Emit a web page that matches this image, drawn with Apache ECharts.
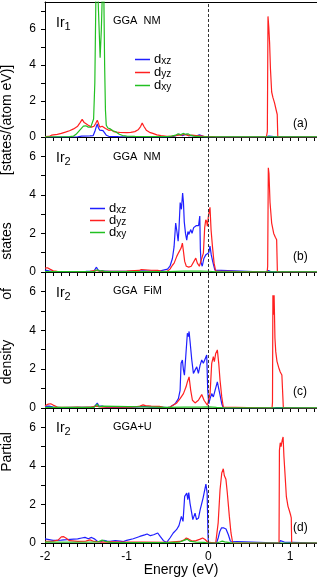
<!DOCTYPE html>
<html><head><meta charset="utf-8">
<script src="https://cdn.jsdelivr.net/npm/echarts@6/dist/echarts.min.js"></script>
<style>html,body{margin:0;padding:0;background:#fff}#c{width:317px;height:583px}</style>
</head><body><div id="c"></div>
<script>
// ---------- data (x: energy in eV, y: PDOS) ----------
const aXZ = [[-2,0],[-1.6,0.01],[-1.55,0.05],[-1.45,0.06],[-1.41,0.08],[-1.39,0.3],[-1.37,0.6],[-1.36,0.72],[-1.345,0.5],[-1.33,0.38],[-1.31,0.45],[-1.29,0.35],[-1.27,0.25],[-1.25,0.1],[-1.22,0.04],[-1.1,0.02],[-0.5,0.01],[-0.42,0.04],[-0.38,0.1],[-0.35,0.15],[-0.32,0.08],[-0.3,0.12],[-0.27,0.15],[-0.24,0.07],[-0.2,0.08],[-0.15,0.05],[-0.11,0.12],[-0.09,0.05],[-0.05,0.01],[0.7,0],[0.74,0.05],[0.8,0.02],[1.33,0]];
const aYZ = [[-2,0.02],[-1.95,0.03],[-1.92,0.1],[-1.9,0.12],[-1.85,0.15],[-1.8,0.2],[-1.75,0.27],[-1.7,0.35],[-1.65,0.45],[-1.6,0.6],[-1.57,0.8],[-1.545,0.98],[-1.52,0.8],[-1.5,0.7],[-1.47,0.65],[-1.43,0.55],[-1.4,0.6],[-1.38,0.75],[-1.36,0.93],[-1.345,0.75],[-1.33,0.55],[-1.3,0.6],[-1.26,0.47],[-1.22,0.37],[-1.19,0.4],[-1.16,0.3],[-1.14,0.33],[-1.12,0.27],[-1.08,0.25],[-1.0,0.24],[-0.95,0.26],[-0.9,0.3],[-0.86,0.4],[-0.83,0.58],[-0.81,0.78],[-0.79,0.6],[-0.76,0.38],[-0.72,0.26],[-0.68,0.2],[-0.63,0.12],[-0.58,0.08],[-0.51,0.04],[-0.46,0.04],[-0.4,0.08],[-0.36,0.12],[-0.33,0.1],[-0.3,0.15],[-0.27,0.12],[-0.24,0.08],[-0.2,0.1],[-0.15,0.08],[-0.1,0.06],[-0.05,0.03],[0,0.02],[0.05,0.02],[0.1,0],[0.71,0],[0.722,0.3],[0.73,6.7],[0.74,6.1],[0.75,5.2],[0.76,3.8],[0.775,2.5],[0.79,2.2],[0.81,1.9],[0.83,1.5],[0.843,1.25],[0.85,0],[1.33,0]];
const aXY = [[-2,0.01],[-1.7,0.02],[-1.65,0.05],[-1.62,0.15],[-1.59,0.3],[-1.56,0.45],[-1.53,0.6],[-1.5,0.62],[-1.47,0.55],[-1.44,0.55],[-1.42,0.65],[-1.405,1.0],[-1.39,3],[-1.375,8.5],[-1.36,9],[-1.345,7],[-1.325,4.4],[-1.31,6],[-1.295,8.5],[-1.28,8],[-1.27,4],[-1.26,1.5],[-1.25,0.65],[-1.23,0.5],[-1.2,0.45],[-1.17,0.35],[-1.14,0.3],[-1.12,0.3],[-1.09,0.15],[-1.05,0.08],[-1.0,0.05],[-0.9,0.03],[-0.7,0.02],[-0.5,0.02],[-0.45,0.05],[-0.4,0.1],[-0.37,0.18],[-0.34,0.12],[-0.31,0.2],[-0.28,0.15],[-0.25,0.18],[-0.22,0.1],[-0.18,0.05],[-0.1,0.02],[0,0.01],[1.33,0.01]];

const bXZ = [[-2,0.1],[-1.95,0.06],[-1.9,0.03],[-1.7,0.02],[-1.5,0.03],[-1.4,0.05],[-1.37,0.25],[-1.35,0.1],[-1.32,0.05],[-1.3,0.15],[-1.28,0.05],[-1.2,0.03],[-1,0.04],[-0.9,0.05],[-0.8,0.06],[-0.7,0.05],[-0.6,0.05],[-0.55,0.1],[-0.5,0.15],[-0.47,0.3],[-0.44,0.7],[-0.42,1.3],[-0.40,2.54],[-0.385,2.1],[-0.37,1.6],[-0.36,2.2],[-0.345,3.6],[-0.33,3.25],[-0.315,4.1],[-0.305,3.6],[-0.295,2.6],[-0.28,2.0],[-0.265,1.65],[-0.25,2.1],[-0.24,1.95],[-0.215,2.2],[-0.2,2.0],[-0.18,2.3],[-0.165,2.2],[-0.15,2.4],[-0.135,2.3],[-0.12,2.4],[-0.105,2.9],[-0.098,1.2],[-0.09,0.5],[-0.075,0.3],[-0.055,0.7],[-0.03,0.9],[-0.01,1.0],[0.005,1.0],[0.02,1.35],[0.035,0.9],[0.05,0.6],[0.065,0.35],[0.08,0.1],[0.09,0.02],[0.7,0],[0.735,0.08],[0.76,0.02],[1.33,0]];
const bYZ = [[-2,0.2],[-1.97,0.22],[-1.94,0.15],[-1.9,0.06],[-1.85,0.03],[-1.6,0.02],[-1.45,0.03],[-1.38,0.08],[-1.36,0.12],[-1.33,0.05],[-1.2,0.04],[-1.0,0.05],[-0.9,0.07],[-0.85,0.08],[-0.82,0.13],[-0.8,0.1],[-0.7,0.09],[-0.62,0.08],[-0.58,0.05],[-0.53,0.02],[-0.5,0.05],[-0.47,0.15],[-0.44,0.35],[-0.419,0.46],[-0.387,0.81],[-0.367,0.98],[-0.35,0.9],[-0.334,1.24],[-0.318,1.5],[-0.305,1.07],[-0.29,0.55],[-0.27,0.3],[-0.24,0.25],[-0.21,0.3],[-0.19,0.38],[-0.154,0.72],[-0.135,0.46],[-0.11,0.3],[-0.09,0.2],[-0.061,0.98],[-0.045,2.3],[-0.032,2.71],[-0.02,2.6],[-0.012,2.37],[0.0,2.88],[0.02,3.35],[0.033,2.19],[0.05,1.33],[0.07,0.46],[0.09,0.05],[0.1,0],[0.72,0],[0.726,0.3],[0.734,5.4],[0.742,5.1],[0.755,3.6],[0.775,2.54],[0.8,2.0],[0.82,1.8],[0.836,1.67],[0.845,0],[1.33,0]];
const bXY = [[-2,0.02],[-1.4,0.02],[-1.36,0.12],[-1.33,0.03],[-1.3,0.08],[-1.27,0.02],[-0.5,0.02],[-0.3,0.05],[-0.1,0.05],[0,0.04],[0.1,0.01],[1.33,0.01]];

const cXZ = [[-2,0.08],[-1.95,0.1],[-1.9,0.05],[-1.8,0.02],[-1.6,0.03],[-1.4,0.04],[-1.36,0.25],[-1.34,0.1],[-1.3,0.1],[-1.25,0.03],[-1.0,0.03],[-0.85,0.06],[-0.8,0.08],[-0.7,0.05],[-0.6,0.05],[-0.5,0.02],[-0.468,0.05],[-0.407,0.22],[-0.367,0.48],[-0.346,0.91],[-0.334,2.3],[-0.318,2.47],[-0.305,1.95],[-0.293,1.69],[-0.277,2.64],[-0.257,3.85],[-0.244,3.68],[-0.236,3.94],[-0.224,3.42],[-0.203,2.47],[-0.183,1.78],[-0.163,1.95],[-0.142,2.12],[-0.122,1.78],[-0.101,2.21],[-0.081,2.47],[-0.061,2.3],[-0.04,2.38],[-0.02,2.73],[-0.008,0.91],[0.005,0.22],[0.021,0.48],[0.041,0.74],[0.061,0.57],[0.082,0.91],[0.11,1.34],[0.135,0.83],[0.164,0.22],[0.183,0],[0.8,0],[0.81,0.1],[0.83,0.02],[1.33,0]];
const cYZ = [[-2,0.12],[-1.96,0.2],[-1.93,0.22],[-1.9,0.15],[-1.85,0.05],[-1.7,0.03],[-1.6,0.05],[-1.55,0.03],[-1.45,0.04],[-1.38,0.1],[-1.35,0.08],[-1.3,0.04],[-1.2,0.06],[-1.1,0.05],[-0.95,0.04],[-0.85,0.08],[-0.8,0.16],[-0.77,0.12],[-0.7,0.1],[-0.6,0.08],[-0.55,0.04],[-0.5,0.02],[-0.468,0.05],[-0.387,0.26],[-0.346,0.48],[-0.305,0.74],[-0.273,1.09],[-0.257,1.34],[-0.236,1.6],[-0.216,0.91],[-0.195,0.4],[-0.163,0.26],[-0.122,0.4],[-0.081,0.69],[-0.053,0.4],[-0.012,0.14],[0.021,0.74],[0.041,2.3],[0.061,2.64],[0.073,2.38],[0.09,2.81],[0.11,2.99],[0.127,2.3],[0.143,1.43],[0.164,0.57],[0.183,0.05],[0.2,0],[0.78,0],[0.785,0.3],[0.79,5.8],[0.798,4.8],[0.805,5.8],[0.815,3.6],[0.825,2.9],[0.84,2.4],[0.86,2.1],[0.88,1.85],[0.9,1.7],[0.912,1.6],[0.918,0],[1.33,0]];
const cXY = [[-2,0.03],[-1.4,0.03],[-1.36,0.2],[-1.34,0.05],[-1.3,0.1],[-1.28,0.03],[-0.5,0.03],[-0.3,0.05],[-0.1,0.05],[0,0.06],[0.1,0.03],[0.2,0.01],[1.33,0.01]];

const dXZ = [[-2,0.21],[-1.9,0.14],[-1.8,0.15],[-1.73,0.17],[-1.65,0.2],[-1.6,0.21],[-1.55,0.26],[-1.51,0.29],[-1.47,0.22],[-1.43,0.29],[-1.39,0.2],[-1.36,0.09],[-1.32,0.05],[-1.28,0.14],[-1.24,0.1],[-1.2,0.09],[-1.14,0.12],[-1.08,0.1],[-1.04,0.07],[-1.0,0.14],[-0.92,0.22],[-0.84,0.34],[-0.78,0.42],[-0.75,0.47],[-0.71,0.38],[-0.67,0.43],[-0.62,0.52],[-0.59,0.34],[-0.55,0.12],[-0.51,0.03],[-0.47,0.26],[-0.43,0.52],[-0.39,0.69],[-0.36,0.9],[-0.33,1.38],[-0.31,1.12],[-0.29,2.42],[-0.264,2.59],[-0.252,2.25],[-0.24,2.62],[-0.225,2.07],[-0.19,1.21],[-0.163,1.55],[-0.145,1.21],[-0.12,1.3],[-0.10,1.73],[-0.08,2.07],[-0.065,2.33],[-0.05,2.25],[-0.03,3.05],[-0.015,2.6],[-0.005,0.5],[0,0],[0.1,0],[0.12,0.26],[0.14,0.6],[0.16,0.78],[0.19,0.78],[0.216,0.73],[0.245,0.43],[0.27,0.09],[0.28,0],[0.87,0],[0.88,0.12],[0.9,0.1],[0.93,0.05],[0.95,0],[1.33,0]];
const dYZ = [[-2,0.09],[-1.9,0.1],[-1.84,0.15],[-1.8,0.32],[-1.77,0.33],[-1.74,0.25],[-1.7,0.12],[-1.6,0.08],[-1.5,0.1],[-1.45,0.16],[-1.4,0.08],[-1.3,0.05],[-1.2,0.06],[-1.0,0.05],[-0.8,0.05],[-0.5,0.04],[-0.35,0.08],[-0.3,0.15],[-0.27,0.26],[-0.24,0.2],[-0.2,0.1],[-0.15,0.12],[-0.1,0.2],[-0.07,0.26],[-0.04,0.18],[-0.01,0.05],[0,0],[0.09,0],[0.1,0.05],[0.12,1.04],[0.143,2.76],[0.164,3.63],[0.183,3.85],[0.195,3.5],[0.204,3.6],[0.215,3.3],[0.232,2.59],[0.257,1.38],[0.277,0.52],[0.298,0],[0.865,0],[0.87,4.8],[0.88,5.2],[0.89,5.0],[0.905,5.35],[0.915,5.5],[0.925,4.5],[0.938,3.6],[0.955,2.4],[0.975,1.9],[0.99,1.7],[1.007,1.45],[1.015,1.3],[1.02,0],[1.33,0]];
const dXY = [[-2,0.05],[-1.5,0.04],[-1.35,0.06],[-1.3,0.15],[-1.26,0.08],[-1.2,0.03],[-0.5,0.02],[-0.35,0.05],[-0.29,0.15],[-0.26,0.2],[-0.23,0.1],[-0.15,0.05],[-0.05,0.03],[0,0],[0.1,0],[0.14,0.05],[0.17,0.1],[0.2,0.06],[0.26,0.02],[0.3,0],[1.33,0]];

const panelData = [[aXZ,aYZ,aXY],[bXZ,bYZ,bXY],[cXZ,cYZ,cXY],[dXZ,dYZ,dXY]];
const orbitalNames = ['dxz','dyz','dxy'];
const atomLabels = [['Ir','1'],['Ir','2'],['Ir','2'],['Ir','2']];
const methodLabels = ['GGA  NM','GGA  NM','GGA  FiM','GGA+U'];
const panelTags = ['(a)','(b)','(c)','(d)'];
const xTickLabels = [-2,-1,0,1];
const yTickLabels = [0,2,4,6];
const yMax = [7.5,7,7,7];
const yTitleWords = ['Partial','density','of','states','[states/(atom eV)]'];

// ---------- layout / style ----------
const FONT = "'Liberation Sans', Arial, Helvetica, sans-serif";
const COLORS = ['#1f1fff','#ff2020','#22c022'];
const gridTop = [2,137,272,408];
const gridH = [135,135,136,135];
const X_MIN = -2, X_MAX = 1.33;
const minorX = []; for (let k=-20;k<=13;k++) minorX.push(k/10);
const minorY = [0,1,2,3,4,5,6,7];

const grids = [], xAxes = [], yAxes = [], series = [], graphics = [];
for (let i=0;i<4;i++){
  grids.push({left:45, right:0, top:gridTop[i], height:gridH[i], containLabel:false});
  xAxes.push({gridIndex:i, type:'value', min:X_MIN, max:X_MAX,
    axisLine:{show:true, onZero:false, lineStyle:{color:'#000', width:1}},
    axisTick:{show:true, inside:false, length:4, customValues:minorX, lineStyle:{color:'#000', width:1}},
    axisLabel:{show:i===3, customValues:xTickLabels, color:'#000', fontSize:12, fontFamily:FONT, margin:8},
    splitLine:{show:false}});
  yAxes.push({gridIndex:i, type:'value', min:0, max:yMax[i],
    axisLine:{show:true, onZero:false, lineStyle:{color:'#000', width:1}},
    axisTick:{show:true, inside:false, length:4, customValues:minorY, lineStyle:{color:'#000', width:1}},
    axisLabel:{customValues:yTickLabels, color:'#000', fontSize:12, fontFamily:FONT, margin:9},
    splitLine:{show:false}});
  panelData[i].forEach((d,j)=>{
    const s = {name:orbitalNames[j], type:'line', xAxisIndex:i, yAxisIndex:i, data:d,
      showSymbol:false, symbol:'none', clip:true, z:2+j,
      lineStyle:{color:COLORS[j], width:1.2}, itemStyle:{color:COLORS[j]}};
    if (j===0) s.markLine = {silent:true, symbol:['none','none'], label:{show:false},
      lineStyle:{color:'#333', type:[3,2], width:1}, data:[{xAxis:0}], animation:false};
    series.push(s);
  });
  const cy = [22,157,292,427][i];
  graphics.push({type:'text', left:56, top:cy-8, style:{
    text:'{m|'+atomLabels[i][0]+'}{s|'+atomLabels[i][1]+'}',
    rich:{m:{fontSize:14, fontFamily:FONT, fill:'#000', lineHeight:16, verticalAlign:'top'},
          s:{fontSize:11, fontFamily:FONT, fill:'#000', lineHeight:11, padding:[7,0,0,0], verticalAlign:'bottom'}}}});
  graphics.push({type:'text', left:113, top:[21,157,291.5,427.5][i]-6, style:{text:methodLabels[i], fontSize:11, fontFamily:FONT, fill:'#000'}});
  graphics.push({type:'text', left:293, top:[125,258,393,528.5][i]-7, style:{text:panelTags[i], fontSize:12, fontFamily:FONT, fill:'#000'}});
}
// top frame of panel (a)
xAxes.push({gridIndex:0, type:'value', position:'top', min:X_MIN, max:X_MAX,
  axisLine:{show:true, onZero:false, lineStyle:{color:'#000', width:1}},
  axisTick:{show:false}, axisLabel:{show:false}, splitLine:{show:false}});

// y-axis title words, rotated
const titleY = [452,362,294,241,120];
yTitleWords.forEach((w,k)=>{
  graphics.push({type:'text', x:7, y:titleY[k], rotation:Math.PI/2,
    style:{text:w, fontSize:14, fontFamily:FONT, fill:'#000', align:'center', verticalAlign:'middle'}});
});
graphics.push({type:'text', x:181, y:570, style:{text:'Energy (eV)', fontSize:14, fontFamily:FONT, fill:'#000', align:'center', verticalAlign:'middle'}});

const legendRich = {d:{fontSize:13, fontFamily:FONT, color:'#000', lineHeight:13, verticalAlign:'middle'},
  s:{fontSize:10, fontFamily:FONT, color:'#000', lineHeight:10, padding:[8,0,0,0], verticalAlign:'bottom'}};
const legendFmt = n => '{d|d}{s|'+n.slice(1)+'}';
const mkLegend = (left, top, gap) => ({left, top, orient:'vertical', icon:'rect', itemWidth:15, itemHeight:1.5,
  itemGap:gap, padding:0, selectedMode:false, data:orbitalNames, formatter:legendFmt, textStyle:{rich:legendRich, padding:[0,0,0,-1]}});

const option = {animation:false, backgroundColor:'#fff',
  grid:grids, xAxis:xAxes, yAxis:yAxes, series:series,
  legend:[mkLegend(135,48,-5), mkLegend(90,197,-6)],
  graphic:graphics};
const chart = echarts.init(document.getElementById('c'), null, {renderer:'canvas'});
chart.setOption(option);
</script></body></html>
